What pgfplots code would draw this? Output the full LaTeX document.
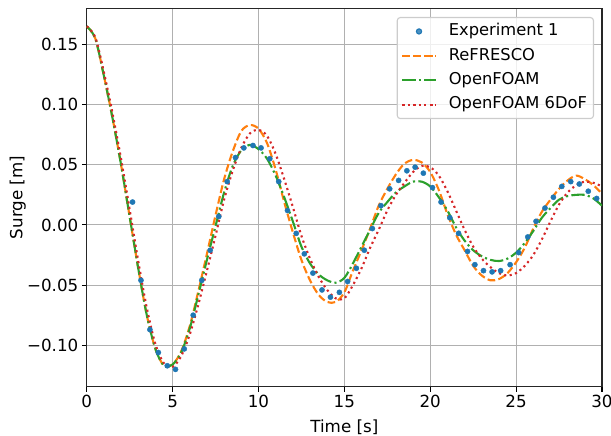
\documentclass[border=0pt]{standalone}
\usepackage{pgfplots}
\pgfplotsset{compat=1.18}
\usepackage{fontspec}
\setmainfont{DejaVu Sans}
\definecolor{tabblue}{HTML}{1F77B4}
\definecolor{taborange}{HTML}{FF7F0E}
\definecolor{tabgreen}{HTML}{2CA02C}
\definecolor{tabred}{HTML}{D62728}

\pgfplotstableread{
t refresco openfoam sixdof
0.0 0.165 0.165 0.165
0.5 0.155 0.155 0.156
1.0 0.124 0.124 0.127
1.5 0.089 0.089 0.093
2.0 0.050 0.050 0.055
2.5 0.007 0.007 0.013
3.0 -0.036 -0.036 -0.030
3.5 -0.075 -0.075 -0.069
4.0 -0.103 -0.103 -0.099
4.5 -0.117 -0.117 -0.115
5.0 -0.116 -0.116 -0.118
5.5 -0.105 -0.106 -0.109
6.0 -0.084 -0.086 -0.091
6.5 -0.055 -0.058 -0.066
7.0 -0.024 -0.029 -0.038
7.5 0.008 -0.001 -0.009
8.0 0.038 0.027 0.021
8.5 0.061 0.049 0.045
9.0 0.078 0.062 0.064
9.5 0.083 0.0665 0.076
10.0 0.080 0.063 0.079
10.5 0.068 0.055 0.074
11.0 0.046 0.041 0.059
11.5 0.019 0.023 0.038
12.0 -0.006 0.003 0.015
12.5 -0.029 -0.018 -0.009
13.0 -0.046 -0.032 -0.028
13.5 -0.058 -0.041 -0.043
14.0 -0.064 -0.046 -0.054
14.5 -0.064 -0.048 -0.061
15.0 -0.056 -0.044 -0.061
15.5 -0.038 -0.032 -0.050
16.0 -0.021 -0.018 -0.036
16.5 -0.003 -0.004 -0.019
17.0 0.016 0.010 -0.004
17.5 0.030 0.019 0.012
18.0 0.042 0.027 0.025
18.5 0.051 0.032 0.035
19.0 0.054 0.036 0.044
19.5 0.052 0.036 0.049
20.0 0.044 0.032 0.048
20.5 0.029 0.023 0.041
21.0 0.009 0.012 0.028
21.5 -0.008 -0.002 0.012
22.0 -0.021 -0.013 -0.004
22.5 -0.034 -0.021 -0.018
23.0 -0.042 -0.026 -0.028
23.5 -0.046 -0.029 -0.035
24.0 -0.045 -0.030 -0.040
24.5 -0.040 -0.028 -0.042
25.0 -0.031 -0.023 -0.040
25.5 -0.019 -0.015 -0.034
26.0 -0.003 -0.005 -0.025
26.5 0.011 0.006 -0.012
27.0 0.021 0.014 0.003
27.5 0.030 0.021 0.017
28.0 0.037 0.024 0.027
28.5 0.041 0.025 0.033
29.0 0.038 0.025 0.036
29.5 0.033 0.022 0.035
30.0 0.026 0.016 0.032
}\simdata

\pgfplotstableread{
t surge
2.67 0.019
3.16 -0.046
3.68 -0.087
4.17 -0.106
4.69 -0.117
5.17 -0.120
5.68 -0.103
6.20 -0.075
6.70 -0.046
7.19 -0.021
7.69 0.007
8.18 0.036
8.66 0.056
9.15 0.064
9.68 0.066
10.15 0.064
10.66 0.055
11.18 0.036
11.69 0.012
12.20 -0.007
12.67 -0.024
13.17 -0.040
13.70 -0.054
14.19 -0.060
14.71 -0.056
15.19 -0.047
15.70 -0.036
16.16 -0.021
16.63 -0.003
17.13 0.016
17.64 0.030
18.16 0.037
18.64 0.045
19.12 0.048
19.60 0.043
20.13 0.031
20.63 0.019
21.14 0.006
21.65 -0.007
22.17 -0.022
22.60 -0.033
23.10 -0.038
23.60 -0.039
24.10 -0.038
24.65 -0.033
25.15 -0.023
25.68 -0.010
26.16 0.003
26.68 0.014
27.17 0.023
27.66 0.032
28.18 0.036
28.68 0.034
29.20 0.028
29.69 0.022
}\expdata

\begin{document}
\begin{tikzpicture}[font=\fontsize{16.7}{20}\selectfont]
\begin{axis}[
  scale only axis, width=515.3pt, height=378.4pt,
  xmin=0, xmax=30, ymin=-0.1344, ymax=0.180,
  xtick={0,5,10,15,20,25,30}, xticklabels={0,5,10,15,20,25,30},
  ytick={-0.1,-0.05,0,0.05,0.1,0.15},
  yticklabels={−0.10,−0.05,0.00,0.05,0.10,0.15},
  xtick pos=bottom, ytick pos=left,
  tick align=outside, major tick length=4.9pt,
  every tick/.style={black, line width=1.1pt},
  axis line style={black!85, line width=1.1pt},
  grid=major, major grid style={color=black!31, line width=1.1pt},
  xlabel={Time [s]}, ylabel={Surge [m]},
  every axis x label/.style={at={(rel axis cs:0.5,0)}, anchor=center, yshift=-41pt},
  every axis y label/.style={at={(rel axis cs:0,0.5)}, rotate=90, anchor=center, yshift=69pt},
  legend cell align=left,
  legend image code/.code={\draw[mark repeat=2,mark phase=2] plot coordinates {(0pt,0pt) (16.7pt,0pt) (33.4pt,0pt)};\path[draw=none,fill=none] (-1pt,0pt) (44pt,0pt);},
  legend style={at={(rel axis cs:1,1)}, anchor=north east, xshift=-8pt, yshift=-8.7pt,
    draw=black!20, line width=1.1pt, rounded corners=3pt, fill=white, fill opacity=0.8, text opacity=1,
    inner xsep=4pt, inner ysep=3.15pt, row sep=2.9pt,
    font=\fontsize{16.3}{19.5}\selectfont,
    nodes={inner sep=2.5pt, text height=12.5pt, text depth=4pt}},
]
\coordinate (SW) at (rel axis cs:0,0);
\coordinate (NE) at (rel axis cs:1,1);
\addlegendimage{only marks, mark=*, mark size=2.6pt, color=tabblue}
\addlegendentry{Experiment 1}
\addplot[taborange, line width=2.1pt, dash pattern=on 7.7pt off 3.3pt, smooth, mark=none] table[x=t, y=refresco] {\simdata};
\addlegendentry{ReFRESCO}
\addplot[tabgreen, line width=2.1pt, dash pattern=on 13.3pt off 3.3pt on 2.1pt off 3.3pt, smooth, mark=none] table[x=t, y=openfoam] {\simdata};
\addlegendentry{OpenFOAM}
\addplot[tabred, line width=2.1pt, line cap=butt, dash pattern=on 2.1pt off 3.4pt, smooth, mark=none] table[x=t, y=sixdof] {\simdata};
\addlegendentry{OpenFOAM 6DoF}
\addplot[only marks, mark=*, mark size=2.6pt, color=tabblue, forget plot] table[x=t, y=surge] {\expdata};
\end{axis}
\pgfresetboundingbox
\path[use as bounding box] ([shift={(-86.7pt,-49.3pt)}]SW) rectangle ([shift={(9pt,8.3pt)}]NE);
\end{tikzpicture}
\end{document}
